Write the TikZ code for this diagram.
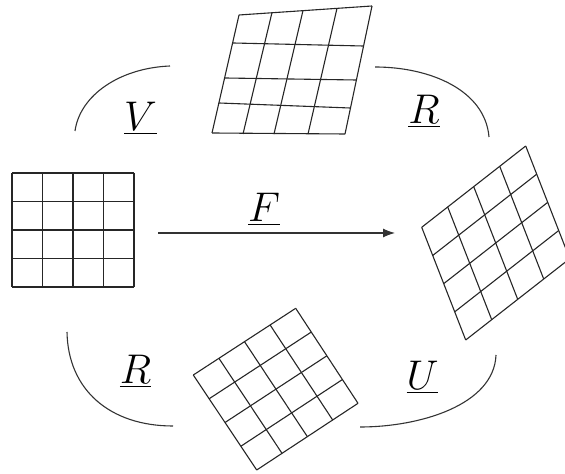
\documentclass[tikz,border=0pt]{standalone}
\usetikzlibrary{calc,arrows.meta}
\tikzset{
  mesh/.style={line width=0.55pt, black!85},
  link/.style={line width=0.55pt, black!80},
  maplabel/.style={font=\huge, inner sep=0pt}
}
% 4x4 mesh between corners: top-left, top-right, bottom-right, bottom-left
\newcommand{\meshgrid}[4]{%
  \foreach \k in {0,...,4} {
    \draw[mesh] ($(#1)!\k/4!(#4)$) -- ($(#2)!\k/4!(#3)$);
    \draw[mesh] ($(#1)!\k/4!(#2)$) -- ($(#4)!\k/4!(#3)$);
  }}

\begin{document}
\begin{tikzpicture}[x=0.5pt, y=-0.5pt]
  \useasboundingbox (0,0) rectangle (565,474);
  \clip (0,0) rectangle (565,474);

  % reference grid
  \coordinate (ref-tl) at (12,173);
  \coordinate (ref-tr) at (134,173);
  \coordinate (ref-br) at (134,287);
  \coordinate (ref-bl) at (12,287);
  \meshgrid{ref-tl}{ref-tr}{ref-br}{ref-bl}

  % stretched grid (top)
  \foreach \xa/\ya/\xb/\yb in {239/15/212/133, 272/12.5/243/134, 303/10.5/274/134,
      337/8.3/308/134, 372/6/345/134, 239/15/372/6, 233/43/363/46, 225/78/356/80,
      219/103/350/108, 212/133/345/134}
    \draw[mesh] (\xa,\ya) -- (\xb,\yb);

  % deformed grid (right)
  \coordinate (def-tl) at (421.7,227.3);
  \coordinate (def-tr) at (525.7,146);
  \coordinate (def-br) at (569.7,258.7);
  \coordinate (def-bl) at (465.7,340);
  \meshgrid{def-tl}{def-tr}{def-br}{def-bl}

  % rotated grid (bottom)
  \coordinate (rot-tl) at (193.3,375);
  \coordinate (rot-tr) at (295.7,308.3);
  \coordinate (rot-br) at (358,403.3);
  \coordinate (rot-bl) at (256.7,470);
  \meshgrid{rot-tl}{rot-tr}{rot-br}{rot-bl}

  % mapping F
  \coordinate (f-from) at (158,233);
  \coordinate (f-to) at (395,233);
  \draw[link, -{Latex[length=6pt,width=4.5pt]}] (f-from) -- (f-to);
  \node[maplabel] (lbl-F) at (264,209) {$\underline{F}$};

  % upper path: V then R
  \coordinate (v-from) at (75,131);
  \coordinate (v-to) at (170,66);
  \draw[link] (v-from) .. controls (80,95) and (120,68) .. (v-to);
  \node[maplabel] (lbl-V) at (140.5,118) {$\underline{V}$};

  \coordinate (ru-from) at (375,67);
  \coordinate (ru-to) at (489,137);
  \draw[link] (ru-from) .. controls (430,67) and (485,90) .. (ru-to);
  \node[maplabel] (lbl-Rup) at (424,111) {$\underline{R}$};

  % lower path: R then U
  \coordinate (rl-from) at (67,332);
  \coordinate (rl-to) at (173,426);
  \draw[link] (rl-from) .. controls (68,390) and (110,426) .. (rl-to);
  \node[maplabel] (lbl-Rlow) at (135.5,371) {$\underline{R}$};

  \coordinate (u-from) at (360,427);
  \coordinate (u-to) at (496,355);
  \draw[link] (u-from) .. controls (420,427) and (494,405) .. (u-to);
  \node[maplabel] (lbl-U) at (422.5,377.5) {$\underline{U}$};
\end{tikzpicture}
\end{document}
